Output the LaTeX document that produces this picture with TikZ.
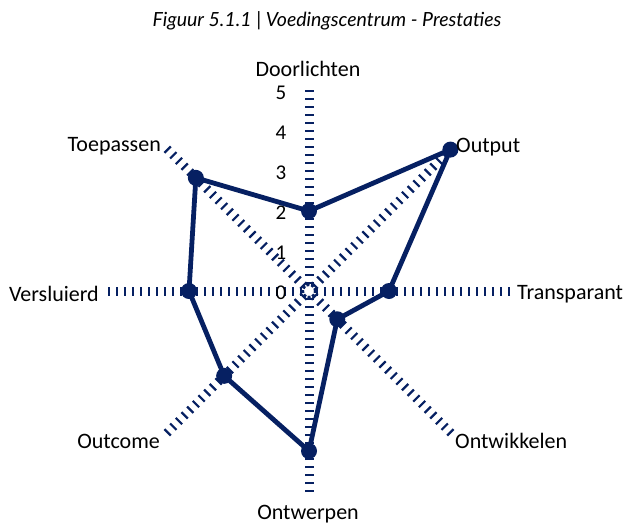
\documentclass[tikz,border=0pt]{standalone}
\usepackage{fontspec}
\setmainfont{Carlito}
\newfontfamily\titlefont{Lato}
\definecolor{navy}{RGB}{6,32,98}
\tikzset{
  axisline/.style={navy, line width=9pt, dash pattern=on 2.2pt off 5.8pt},
  dataline/.style={navy, line width=4.8pt, line join=round},
  datadot/.style={circle, fill=navy, inner sep=0pt, minimum size=16pt},
  axislabel/.style={font=\fontsize{22}{24}\selectfont, inner sep=0pt},
  ticklabel/.style={font=\fontsize{21}{24}\selectfont, inner sep=0pt},
  hubring/.style={navy, line width=2.6pt, dash pattern=on 3pt off 1.6pt, fill=white}
}
\begin{document}
\begin{tikzpicture}[x=1pt,y=1pt]
\useasboundingbox (0,0) rectangle (626,-525);
\node[font=\titlefont\itshape\fontsize{19.5}{22}\selectfont, inner sep=0pt] (title) at (327,-21) {Figuur 5.1.1 | Voedingscentrum - Prestaties};
\begin{scope}[shift={(309,-291)}]
  % spokes, drawn inward so the dashes line up at the outer ends
  \foreach \ang in {0,45,...,315}
    \draw[axisline] (\ang:201) -- (0,0);
  \draw[hubring] (0,0) circle (6.2);
  % scale values
  \foreach \v in {0,...,5}
    \node[ticklabel] (t\v) at (-28,{40*\v-2}) {\v};
  % data polygon
  \coordinate (dDoor) at (90:80);
  \coordinate (dOut)  at (45:200);
  \coordinate (dTrans) at (0:80);
  \coordinate (dOntw) at (-45:40);
  \coordinate (dOntp) at (-90:160);
  \coordinate (dOutc) at (-135:120);
  \coordinate (dVers) at (180:120);
  \coordinate (dToep) at (135:160);
  \draw[dataline] (dDoor) -- (dOut) -- (dTrans) -- (dOntw) -- (dOntp) -- (dOutc) -- (dVers) -- (dToep) -- cycle;
  \foreach \p in {dDoor,dOut,dTrans,dOntw,dOntp,dOutc,dVers,dToep}
    \node[datadot] at (\p) {};
\end{scope}
% axis names
\node[axislabel] (lDoor) at (308,-69) {Doorlichten};
\node[axislabel, anchor=west] (lOut) at (456,-147) {Output};
\node[axislabel, anchor=west] (lTrans) at (517,-294) {Transparant};
\node[axislabel, anchor=west] (lOntw) at (455,-441) {Ontwikkelen};
\node[axislabel] (lOntp) at (308,-514) {Ontwerpen};
\node[axislabel, anchor=east] (lOutc) at (160,-441) {Outcome};
\node[axislabel, anchor=east] (lVers) at (99,-294) {Versluierd};
\node[axislabel, anchor=east] (lToep) at (161,-146) {Toepassen};
\end{tikzpicture}
\end{document}
